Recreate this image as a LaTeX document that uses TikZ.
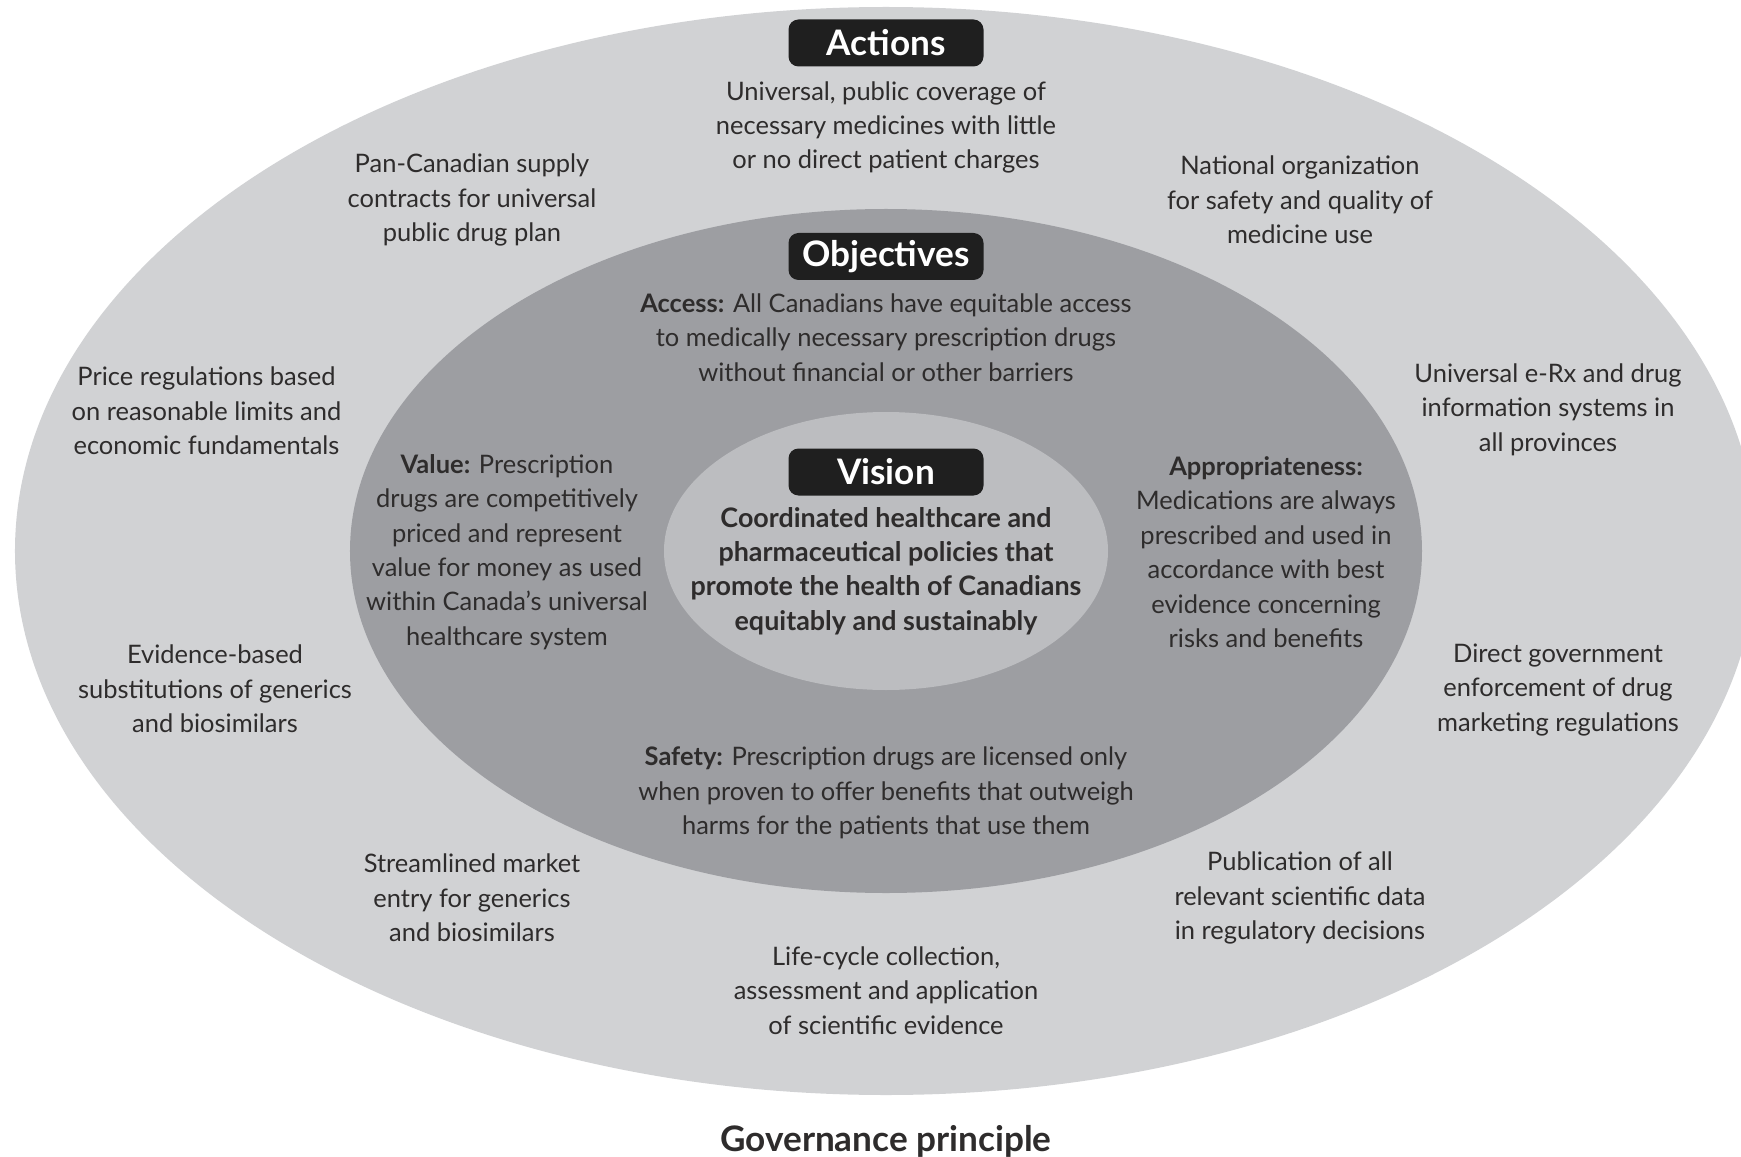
\documentclass[tikz,border=0pt]{standalone}
\usepackage{fontspec}
\setmainfont{Lato}
\definecolor{outerring}{HTML}{D1D2D4}
\definecolor{midring}{HTML}{9D9EA2}
\definecolor{innerring}{HTML}{BCBDC0}
\definecolor{txtgray}{HTML}{2E2C2C}
\begin{document}
\begin{tikzpicture}[
    tag/.style={fill=black!88, text=white, rounded corners=0.2cm, minimum width=3.9cm,
      minimum height=0.94cm, inner sep=0pt, font=\fontsize{20}{23}\selectfont\bfseries},
    item/.style={align=center, text=txtgray, inner sep=0pt, font=\fontsize{14.5}{19.6}\selectfont},
    visiontext/.style={item, font=\fontsize{15.3}{19.6}\selectfont\bfseries}]

  \useasboundingbox (-17.72,-12.10) rectangle (17.10,11.02);

  % rings
  \fill[outerring] (0,0) ellipse [x radius=17.42, y radius=10.88];
  \fill[midring] (0,0) ellipse [x radius=10.72, y radius=6.84];
  \fill[innerring] (0,0) ellipse [x radius=4.44, y radius=2.78];

  % actions
  \node[tag] (actions) at (0,10.16) {Actions};
  \node[item] (coverage) at (0,8.47) {Universal, public coverage of\\necessary medicines with little\\or no direct patient charges};
  \node[item] (supply) at (-8.28,7.02) {Pan-Canadian supply\\contracts for universal\\public drug plan};
  \node[item] (safetyorg) at (8.28,7.02) {National organization\\for safety and quality of\\medicine use};
  \node[item] (price) at (-13.59,2.80) {Price regulations based\\on reasonable limits and\\economic fundamentals};
  \node[item] (erx) at (13.24,2.83) {Universal e-Rx and drug\\information systems in\\all provinces};
  \node[item] (substitution) at (-13.42,-2.76) {Evidence-based\\substitutions of generics\\and biosimilars};
  \node[item] (enforcement) at (13.44,-2.78) {Direct government\\enforcement of drug\\marketing regulations};
  \node[item] (entry) at (-8.28,-6.94) {Streamlined market\\entry for generics\\and biosimilars};
  \node[item] (publication) at (8.28,-6.94) {Publication of all\\relevant scientific data\\in regulatory decisions};
  \node[item] (lifecycle) at (0,-8.79) {Life-cycle collection,\\assessment and application\\of scientific evidence};

  % objectives
  \node[tag] (objectives) at (0,5.89) {Objectives};
  \node[item] (access) at (0,4.27) {\textbf{Access:} All Canadians have equitable access\\to medically necessary prescription drugs\\without financial or other barriers};
  \node[item] (value) at (-7.58,-0.02) {\textbf{Value:} Prescription\\drugs are competitively\\priced and represent\\value for money as used\\within Canada’s universal\\healthcare system};
  \node[item] (appropriate) at (7.60,-0.02) {\textbf{Appropriateness:}\\Medications are always\\prescribed and used in\\accordance with best\\evidence concerning\\risks and benefits};
  \node[item] (safety) at (0,-4.84) {\textbf{Safety:} Prescription drugs are licensed only\\when proven to offer benefits that outweigh\\harms for the patients that use them};

  % vision
  \node[tag] (vision) at (0,1.58) {Vision};
  \node[visiontext] (visionbody) at (0,-0.40) {Coordinated healthcare and\\pharmaceutical policies that\\promote the health of Canadians\\equitably and sustainably};

  \node[visiontext, font=\fontsize{20}{23}\selectfont\bfseries] (governance) at (0,-11.80) {Governance principle};

\end{tikzpicture}
\end{document}
